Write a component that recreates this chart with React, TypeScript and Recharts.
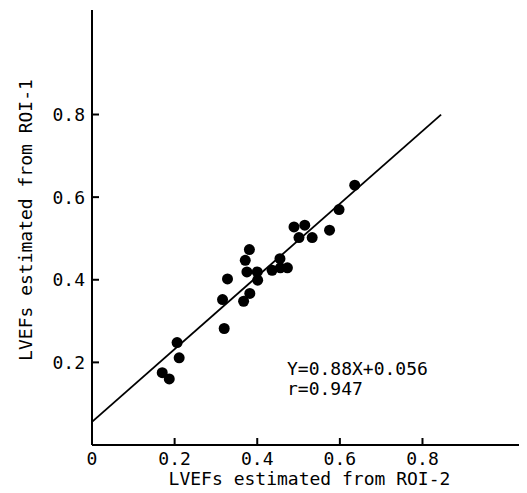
import React from "react";
import { ScatterChart, Scatter, XAxis, YAxis, ReferenceLine, Customized } from "recharts";

const xValues = [0.206, 0.211, 0.17, 0.187, 0.32, 0.316, 0.328, 0.367, 0.382, 0.381, 0.371, 0.375, 0.4, 0.401, 0.436, 0.455, 0.456, 0.473, 0.489, 0.515, 0.501, 0.533, 0.575, 0.598, 0.636];
const yValues = [0.248, 0.211, 0.175, 0.16, 0.282, 0.352, 0.402, 0.348, 0.367, 0.473, 0.447, 0.419, 0.419, 0.399, 0.423, 0.451, 0.429, 0.429, 0.528, 0.532, 0.502, 0.502, 0.52, 0.57, 0.629];
const xTicks = [0, 0.2, 0.4, 0.6, 0.8];
const yTicks = [0.2, 0.4, 0.6, 0.8];
const slope = 0.88;
const intercept = 0.056;
const lineStartX = 0;
const lineEndX = 0.845;
const equationText = "Y=0.88X+0.056";
const rText = "r=0.947";
const xTitle = "LVEFs estimated from ROI-2";
const yTitle = "LVEFs estimated from ROI-1";

const points = xValues.map((x, i) => ({ x, y: yValues[i] }));
const FONT = "'DejaVu Sans Mono', monospace";
const fmt = (v: number) => (v === 0 ? "0" : v.toFixed(1));

const Dot = (props: any) => <circle cx={props.cx} cy={props.cy} r={5.5} fill="#000" />;

export default function App() {
  return (
    <ScatterChart width={519} height={485} margin={{ top: 2, right: 0, left: 0, bottom: 0 }}>
      <XAxis
        type="number"
        dataKey="x"
        domain={[0, 1.053]}
        ticks={xTicks}
        interval={0}
        allowDataOverflow
        height={48}
        tickFormatter={fmt}
        tickSize={-7}
        tickMargin={14}
        axisLine={{ stroke: "#000", strokeWidth: 2 }}
        tickLine={{ stroke: "#000", strokeWidth: 2 }}
        tick={{ fill: "#000", fontSize: 18, fontFamily: FONT }}
        label={{ value: xTitle, position: "insideBottom", offset: 8, fill: "#000", fontSize: 18, fontFamily: FONT }}
      />
      <YAxis
        type="number"
        dataKey="y"
        domain={[0, 1.053]}
        ticks={yTicks}
        interval={0}
        allowDataOverflow
        width={84}
        tickFormatter={fmt}
        tickSize={-7}
        tickMargin={14}
        axisLine={{ stroke: "#000", strokeWidth: 2 }}
        tickLine={{ stroke: "#000", strokeWidth: 2 }}
        tick={{ fill: "#000", fontSize: 18, fontFamily: FONT }}
        label={{
          content: () => (
            <text x={17} y={212} transform="rotate(-90, 17, 212)" textAnchor="middle" dominantBaseline="central" fill="#000" fontSize={18} fontFamily={FONT}>
              {yTitle}
            </text>
          ),
        }}
      />
      <ReferenceLine
        segment={[
          { x: lineStartX, y: slope * lineStartX + intercept },
          { x: lineEndX, y: slope * lineEndX + intercept },
        ]}
        stroke="#000"
        strokeWidth={1.8}
        ifOverflow="visible"
      />
      <Scatter data={points} fill="#000" shape={Dot} isAnimationActive={false} />
      <Customized
        component={() => (
          <g>
            <text x={279} y={367} fill="#000" fontSize={18} fontFamily={FONT}>{equationText}</text>
            <text x={279} y={387} fill="#000" fontSize={18} fontFamily={FONT}>{rText}</text>
          </g>
        )}
      />
    </ScatterChart>
  );
}
